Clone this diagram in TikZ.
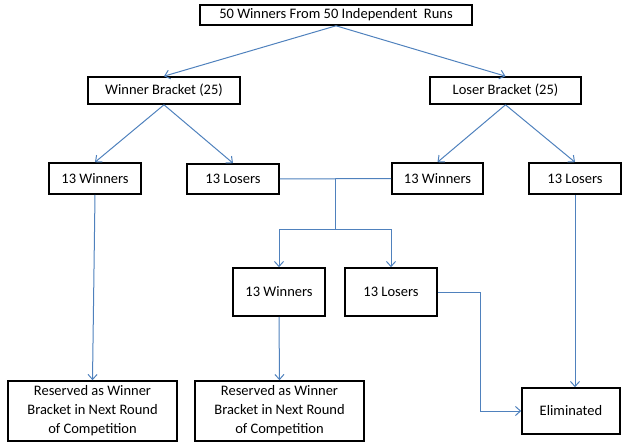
\documentclass[tikz,border=0pt]{standalone}
\usepackage{fontspec}
\setmainfont{Carlito}
\usetikzlibrary{arrows.meta}
\definecolor{conn}{HTML}{4F81BD}
\begin{document}
\begin{tikzpicture}[x=1pt,y=-1pt,
  box/.style={draw=black,line width=1.6pt,inner sep=0pt,align=center,
              font=\fontsize{14.5}{19}\selectfont},
  link/.style={draw=conn,line width=1pt,-{Straight Barb[length=5pt,width=9pt]}},
  plain/.style={draw=conn,line width=1pt}]
\useasboundingbox (0,0) rectangle (625,444);
\node[box,minimum width=272pt,minimum height=20pt] (top) at (336,15) {50 Winners From 50 Independent\ \ Runs};
\node[box,minimum width=152pt,minimum height=27pt] (wb) at (164,90.5) {Winner Bracket (25)};
\node[box,minimum width=151pt,minimum height=27pt] (lb) at (505.5,90.5) {Loser Bracket (25)};
\node[box,minimum width=92pt,minimum height=31pt] (lw) at (95,178.5) {13 Winners};
\node[box,minimum width=92pt,minimum height=30pt] (ll) at (233,179) {13 Losers};
\node[box,minimum width=91pt,minimum height=31pt] (rw) at (437.5,178.5) {13 Winners};
\node[box,minimum width=92pt,minimum height=31pt] (rl) at (575,178.5) {13 Losers};
\node[box,minimum width=92pt,minimum height=48pt] (mw) at (279,292) {13 Winners};
\node[box,minimum width=92pt,minimum height=48pt] (ml) at (391,292) {13 Losers};
\node[box,minimum width=169pt,minimum height=60pt] (r1) at (92.5,411) {Reserved as Winner\\Bracket in Next Round\\of Competition};
\node[box,minimum width=169pt,minimum height=60pt] (r2) at (279.5,411) {Reserved as Winner\\Bracket in Next Round\\of Competition};
\node[box,minimum width=98pt,minimum height=46pt] (el) at (571,411) {Eliminated};
\coordinate (j1) at (335,179);
\coordinate (j2) at (335,229);
\coordinate (bend) at (480,292);
\draw[link] (top.south) -- (wb.north);
\draw[link] (top.south) -- (lb.north);
\draw[link] (wb.south) -- (lw.north);
\draw[link] (wb.south) -- (ll.north);
\draw[link] (lb.south) -- (rw.north);
\draw[link] (lb.south) -- (rl.north);
\draw[plain] (ll.east) -- (rw.west);
\draw[plain] (j1) -- (j2);
\draw[link] (j2) -| (mw.north);
\draw[link] (j2) -| (ml.north);
\draw[link] (lw.south) -- (r1.north);
\draw[link] (mw.south) -- (r2.north);
\draw[link] (rl.south) -- (rl.south |- el.north);
\draw[link] (ml.east) -- (bend) |- (el.west);
\end{tikzpicture}
\end{document}
